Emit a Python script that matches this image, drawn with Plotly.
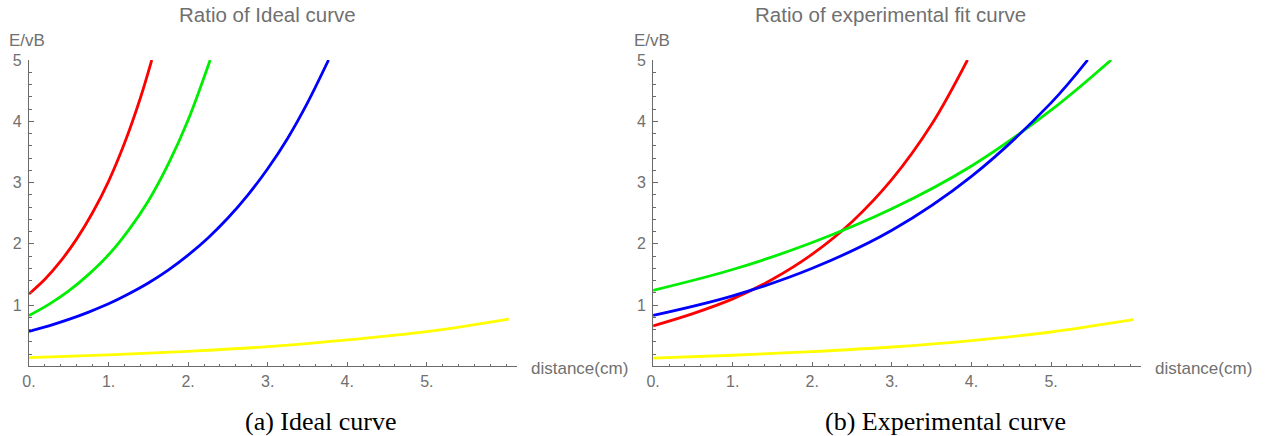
import plotly.graph_objects as go

W, H = 1267, 436

# ---- Ideal curves: E/vB ratio against distance (cm) ----
ideal_red_x = [0, 0.2, 0.4, 0.6, 0.8, 1.0, 1.2, 1.4, 1.543]
ideal_red_y = [1.18, 1.42, 1.72, 2.08, 2.51, 3.02, 3.64, 4.38, 5.0]
ideal_green_x = [0, 0.25, 0.5, 0.75, 1.0, 1.25, 1.5, 1.75, 2.0, 2.277]
ideal_green_y = [0.827, 1.01, 1.23, 1.50, 1.82, 2.22, 2.70, 3.30, 4.02, 5.0]
ideal_blue_x = [0, 0.25, 0.5, 0.75, 1.0, 1.25, 1.5, 1.75, 2.0, 2.25, 2.5, 2.75, 3.0, 3.25, 3.5, 3.765]
ideal_blue_y = [0.571, 0.66, 0.765, 0.885, 1.02, 1.18, 1.36, 1.57, 1.815, 2.095, 2.42, 2.795, 3.225, 3.72, 4.30, 5.0]
ideal_yellow_x = [0, 1, 2, 3, 4, 5, 6.03]
ideal_yellow_y = [0.14, 0.185, 0.245, 0.32, 0.43, 0.565, 0.77]

# ---- Experimental fit curves ----
fit_red_x = [0, 0.5, 1.0, 1.5, 2.0, 2.5, 3.0, 3.5, 3.95]
fit_red_y = [0.66, 0.86, 1.10, 1.42, 1.83, 2.36, 3.05, 3.95, 5.0]
fit_green_x = [0, 1, 2, 3, 4, 5, 5.755]
fit_green_y = [1.24, 1.58, 2.02, 2.57, 3.27, 4.18, 5.0]
fit_blue_x = [0, 1, 2, 3, 4, 5, 5.46]
fit_blue_y = [0.83, 1.15, 1.60, 2.22, 3.10, 4.30, 5.0]
fit_yellow_x = [0, 1, 2, 3, 4, 5, 6.03]
fit_yellow_y = [0.135, 0.18, 0.24, 0.315, 0.42, 0.56, 0.76]

x_tick_vals = [0, 1, 2, 3, 4, 5]
x_tick_text = ["0.", "1.", "2.", "3.", "4.", "5."]
y_tick_vals = [1, 2, 3, 4, 5]
y_tick_text = ["1", "2", "3", "4", "5"]

titles = ["Ratio of Ideal curve", "Ratio of experimental fit curve"]
captions = ["(a) Ideal curve", "(b) Experimental curve"]

RED, GREEN, BLUE, YELLOW = "#ff0000", "#00ee00", "#0000ff", "#ffff00"
AXIS = "#6a6a6a"
TEXT = "#707070"
SANS = "Liberation Sans, Arial, sans-serif"
SERIF = "Liberation Serif, Times New Roman, serif"
LW = 2.8

fig = go.Figure()

panels = [
    ("x", "y", [(ideal_red_x, ideal_red_y, RED), (ideal_green_x, ideal_green_y, GREEN),
                (ideal_blue_x, ideal_blue_y, BLUE), (ideal_yellow_x, ideal_yellow_y, YELLOW)]),
    ("x2", "y2", [(fit_red_x, fit_red_y, RED), (fit_green_x, fit_green_y, GREEN),
                  (fit_blue_x, fit_blue_y, BLUE), (fit_yellow_x, fit_yellow_y, YELLOW)]),
]
for xa, ya, series in panels:
    for xs, ys, col in series:
        fig.add_trace(go.Scatter(x=xs, y=ys, mode="lines", xaxis=xa, yaxis=ya,
                                 line=dict(color=col, width=LW, shape="spline", smoothing=1.0),
                                 showlegend=False, hoverinfo="skip"))

y_dom = [(H - 366.3) / H, (H - 60) / H]
x_doms = [[29 / W, 516.7 / W], [653.1 / W, 1141 / W]]

def x_axis(dom, anchor):
    return dict(domain=dom, anchor=anchor, range=[0, 6.13], showgrid=False, zeroline=False,
                automargin=False,
                showline=True, linecolor=AXIS, linewidth=1.2,
                ticks="inside", ticklen=4, tickwidth=1.2, tickcolor=AXIS,
                tickvals=x_tick_vals, ticktext=x_tick_text,
                tickfont=dict(family=SANS, size=16, color=TEXT),
                minor=dict(ticks="inside", dtick=0.2, tick0=0, ticklen=2.5, tickwidth=1.2,
                           tickcolor=AXIS, showgrid=False),
                fixedrange=True)

def y_axis(anchor):
    return dict(domain=y_dom, anchor=anchor, range=[0, 5], showgrid=False, zeroline=False,
                automargin=False, ticklabelstandoff=3,
                showline=True, linecolor=AXIS, linewidth=1.2,
                ticks="inside", ticklen=4.5, tickwidth=1.2, tickcolor=AXIS,
                tickvals=y_tick_vals, ticktext=y_tick_text,
                tickfont=dict(family=SANS, size=16, color=TEXT),
                minor=dict(ticks="inside", dtick=0.2, tick0=0, ticklen=2.5, tickwidth=1.2,
                           tickcolor=AXIS, showgrid=False),
                fixedrange=True)

fig.update_layout(
    width=W, height=H, margin=dict(l=0, r=0, t=0, b=0),
    paper_bgcolor="white", plot_bgcolor="white",
    xaxis=x_axis(x_doms[0], "y"), yaxis=y_axis("x"),
    xaxis2=x_axis(x_doms[1], "y2"), yaxis2=y_axis("x2"),
)

def px(xp, yp):
    return xp / W, 1 - yp / H

ann = []
def add_text(text, xp, yp, size, family, color, xanchor="center"):
    x, y = px(xp, yp)
    ann.append(dict(text=text, x=x, y=y, xref="paper", yref="paper", showarrow=False,
                    xanchor=xanchor, yanchor="middle",
                    font=dict(family=family, size=size, color=color)))

# panel titles
add_text(titles[0], 267, 15, 20.5, SANS, TEXT)
add_text(titles[1], 890, 15, 20.5, SANS, TEXT)
# axis labels
add_text("E/vB", 7, 40, 17, SANS, TEXT, "left")
add_text("E/vB", 632, 40, 17, SANS, TEXT, "left")
add_text("distance(cm)", 529, 368, 17, SANS, TEXT, "left")
add_text("distance(cm)", 1153, 368, 17, SANS, TEXT, "left")
# captions
add_text(captions[0], 321, 421, 26, SERIF, "#000000")
add_text(captions[1], 945.5, 421, 26, SERIF, "#000000")

fig.update_layout(annotations=ann)
fig.write_html("out.html")
